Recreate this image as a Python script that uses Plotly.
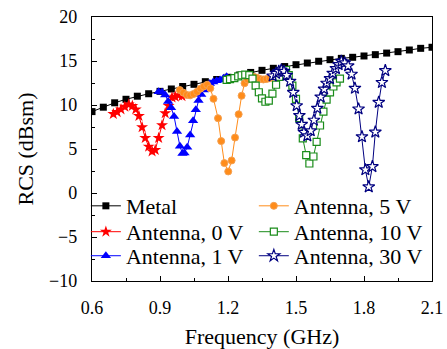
import plotly.graph_objects as go

# ---------------- data ----------------
metal_x = [0.60, 0.65, 0.70, 0.75, 0.80, 0.85, 0.90, 0.95, 1.00, 1.05, 1.10, 1.15, 1.20, 1.25, 1.30, 1.35,
           1.40, 1.45, 1.50, 1.55, 1.60, 1.65, 1.70, 1.75, 1.80, 1.85, 1.90, 1.95, 2.00, 2.05, 2.10]
metal_y = [9.25, 9.75, 10.25, 10.65, 11.00, 11.28, 11.55, 11.82, 12.10, 12.35, 12.65, 12.90, 13.15, 13.40, 13.70, 13.94,
           14.17, 14.37, 14.58, 14.77, 14.97, 15.15, 15.30, 15.42, 15.57, 15.72, 15.90, 16.06, 16.25, 16.44, 16.56]

v0_x = [0.694, 0.711, 0.728, 0.745, 0.762, 0.778, 0.793, 0.807, 0.821, 0.835, 0.850, 0.865, 0.879, 0.894,
        0.909, 0.923, 0.938, 0.953, 0.967, 0.982, 0.997]
v0_y = [8.98, 9.20, 9.50, 9.80, 10.05, 9.90, 9.50, 8.75, 7.47, 6.25, 5.27, 4.74, 4.89, 6.25,
        7.70, 9.06, 9.90, 10.85, 10.95, 11.10, 11.00]

v1_x = [0.894, 0.909, 0.923, 0.936, 0.949, 0.962, 0.975, 0.988, 0.999, 1.008, 1.020, 1.033, 1.046, 1.058,
        1.070, 1.082, 1.094, 1.107, 1.120, 1.135, 1.150, 1.165, 1.180, 1.194]
v1_y = [11.50, 11.45, 11.15, 10.40, 9.70, 8.70, 7.00, 5.30, 4.50, 4.55, 5.20, 6.60, 8.20, 9.45,
        10.50, 11.20, 11.70, 12.20, 12.45, 12.60, 12.75, 12.85, 13.05, 13.20]

v5_x = [0.987, 1.003, 1.018, 1.033, 1.048, 1.063, 1.078, 1.093, 1.108, 1.122, 1.136, 1.156, 1.170, 1.184,
        1.201, 1.216, 1.231, 1.247, 1.260, 1.273, 1.286, 1.300, 1.314, 1.328, 1.342, 1.356, 1.370, 1.384, 1.398]
v5_y = [11.70, 11.40, 11.15, 11.10, 11.25, 11.50, 11.85, 12.10, 12.30, 11.90, 10.70, 8.50, 5.90, 3.40,
        2.45, 3.70, 6.30, 8.95, 11.05, 12.48, 12.90, 13.05, 13.20, 13.10, 12.95, 12.90, 12.95, 13.05, 13.20]

v10_x = [1.194, 1.209, 1.228, 1.245, 1.260, 1.276, 1.294, 1.308, 1.322, 1.336, 1.350, 1.365, 1.380, 1.396,
         1.412, 1.426, 1.441, 1.456, 1.468, 1.484, 1.500, 1.514, 1.530, 1.545, 1.559, 1.577, 1.591, 1.606,
         1.621, 1.635, 1.650, 1.665, 1.679, 1.694]
v10_y = [12.85, 12.95, 13.05, 13.25, 13.38, 13.45, 13.40, 13.00, 12.20, 11.45, 10.75, 10.37, 10.50, 11.30,
         12.30, 13.20, 13.80, 13.98, 13.40, 12.20, 10.70, 8.50, 6.20, 4.30, 3.35, 4.15, 5.80, 7.67,
         9.25, 10.60, 11.43, 12.10, 12.56, 13.00]

v30_x = [1.397, 1.412, 1.424, 1.435, 1.447, 1.459, 1.474, 1.488, 1.503, 1.515, 1.525, 1.535, 1.550, 1.565,
         1.579, 1.594, 1.609, 1.624, 1.635, 1.650, 1.662, 1.676, 1.688, 1.700, 1.715, 1.730, 1.745, 1.760,
         1.776, 1.791, 1.806, 1.821, 1.837, 1.850, 1.865, 1.879, 1.894]
v30_y = [13.30, 13.60, 13.83, 13.98, 13.83, 13.38, 12.70, 11.43, 9.92, 8.80, 7.80, 6.90, 6.50, 7.07,
         8.27, 9.63, 10.90, 11.80, 12.48, 13.00, 13.60, 14.14, 14.59, 14.96, 14.80, 14.45, 13.50, 11.90,
         9.55, 6.39, 2.64, 0.70, 3.00, 6.92, 10.30, 12.56, 13.91]

x_ticks = [0.6, 0.9, 1.2, 1.5, 1.8, 2.1]
x_tick_labels = ["0.6", "0.9", "1.2", "1.5", "1.8", "2.1"]
y_ticks = [-10, -5, 0, 5, 10, 15, 20]
y_tick_labels = ["\u221210", "\u22125", "0", "5", "10", "15", "20"]

FONT = "Liberation Serif"

fig = go.Figure()

fig.add_trace(go.Scatter(x=metal_x, y=metal_y, name="Metal", mode="lines+markers",
                         line=dict(color="black", width=1),
                         marker=dict(symbol="square", size=7, color="black"),
                         legend="legend"))
fig.add_trace(go.Scatter(x=v0_x, y=v0_y, name="Antenna, 0 V", mode="lines+markers",
                         line=dict(color="#ff0000", width=1),
                         marker=dict(symbol="star", size=9, color="#ff0000"),
                         legend="legend2"))
fig.add_trace(go.Scatter(x=v1_x, y=v1_y, name="Antenna, 1 V", mode="lines+markers",
                         line=dict(color="#0000ff", width=1),
                         marker=dict(symbol="triangle-up", size=9, color="#0000ff"),
                         legend="legend3"))
fig.add_trace(go.Scatter(x=v5_x, y=v5_y, name="Antenna, 5 V", mode="lines+markers",
                         line=dict(color="#ff8c1a", width=1),
                         marker=dict(symbol="circle", size=7, color="#ff8c1a",
                                     line=dict(color="#f5a050", width=1)),
                         legend="legend4"))
fig.add_trace(go.Scatter(x=v10_x, y=v10_y, name="Antenna, 10 V", mode="lines+markers",
                         line=dict(color="#1a8c1a", width=1),
                         marker=dict(symbol="square", size=7, color="white",
                                     line=dict(color="#1a8c1a", width=1.2)),
                         legend="legend5"))
fig.add_trace(go.Scatter(x=v30_x, y=v30_y, name="Antenna, 30 V", mode="lines+markers",
                         line=dict(color="#000080", width=1),
                         marker=dict(symbol="star", size=9, color="white",
                                     line=dict(color="#000080", width=1.2)),
                         legend="legend6"))

axis_common = dict(
    showline=True, mirror=True, linecolor="black", linewidth=1.3,
    ticks="inside", ticklen=5, tickcolor="black", tickwidth=1,
    showgrid=False, zeroline=False, automargin=False,
    tickfont=dict(family=FONT, size=18, color="black"),
)

fig.update_xaxes(range=[0.6, 2.1], tickvals=x_ticks, ticktext=x_tick_labels,
                 minor=dict(ticks="inside", ticklen=3, dtick=0.15, tick0=0.6, tickcolor="black"),
                 title=dict(text="Frequency (GHz)", font=dict(family=FONT, size=22, color="black"), standoff=19),
                 ticklabelstandoff=10,
                 **axis_common)
fig.update_yaxes(range=[-10, 20], tickvals=y_ticks, ticktext=y_tick_labels,
                 minor=dict(ticks="inside", ticklen=3, dtick=2.5, tick0=0, tickcolor="black"),
                 title=dict(text="RCS (dBsm)", font=dict(family=FONT, size=22, color="black"), standoff=9),
                 ticklabelstandoff=10,
                 **axis_common)

legend_common = dict(bgcolor="rgba(0,0,0,0)", font=dict(family=FONT, size=22, color="black"),
                     xanchor="left", yanchor="middle", tracegroupgap=0, itemwidth=30)

col_left = -0.018
col_right = 0.476
row_1, row_2, row_3 = 0.284, 0.186, 0.095

fig.update_layout(
    template="none",
    width=447, height=349,
    margin=dict(l=92, r=15, t=17, b=68, autoexpand=False),
    paper_bgcolor="white", plot_bgcolor="white",
    showlegend=True,
    legend=dict(x=col_left, y=row_1, **legend_common),
    legend2=dict(x=col_left, y=row_2, **legend_common),
    legend3=dict(x=col_left, y=row_3, **legend_common),
    legend4=dict(x=col_right, y=row_1, **legend_common),
    legend5=dict(x=col_right, y=row_2, **legend_common),
    legend6=dict(x=col_right, y=row_3, **legend_common),
)

fig.write_html("out.html", config={"displayModeBar": False},
               post_script="document.body.style.margin='0';")
